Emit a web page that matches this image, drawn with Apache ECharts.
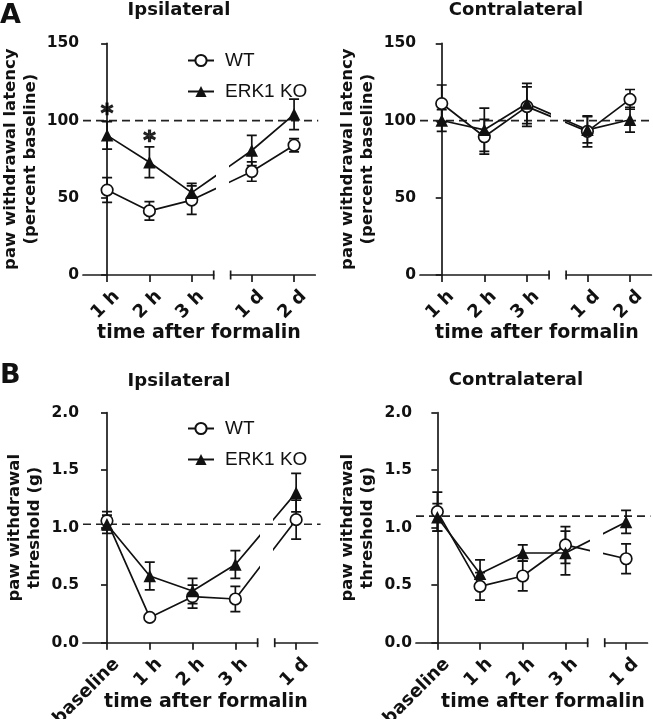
<!DOCTYPE html>
<html><head><meta charset="utf-8">
<script src="https://cdn.jsdelivr.net/npm/echarts@6/dist/echarts.min.js"></script>
<style>html,body{margin:0;padding:0;background:#fff}#c{width:653px;height:719px}</style>
</head><body><div id="c"></div>
<script>
// ---------------- data ----------------
const catsA1 = ['1 h', '2 h', '3 h'];
const catsA2 = ['1 d', '2 d'];
const catsB1 = ['baseline', '1 h', '2 h', '3 h'];
const catsB2 = ['1 d'];

const aIpsiWT = [55, 41.5, 48.5, 67, 84];
const aIpsiWTsem = [8, 6, 9.2, 6.3, 4.3];
const aIpsiKO = [90.4, 73, 53.3, 80.6, 104];
const aIpsiKOsem = [8.9, 10, 6, 9.8, 9.9];

const aContraWT = [111, 89.5, 109, 93, 113.7];
const aContraWTsem = [12, 11.2, 12.8, 10, 6.4];
const aContraKO = [100, 94, 111, 94, 100.5];
const aContraKOsem = [7, 14, 13, 8.5, 8];

const bIpsiWT = [1.06, 0.22, 0.40, 0.38, 1.07];
const bIpsiWTsem = [0.08, 0.02, 0.10, 0.11, 0.17];
const bIpsiKO = [1.03, 0.58, 0.45, 0.68, 1.305];
const bIpsiKOsem = [0.08, 0.12, 0.11, 0.12, 0.167];

const bContraWT = [1.14, 0.49, 0.58, 0.85, 0.73];
const bContraWTsem = [0.17, 0.12, 0.13, 0.16, 0.13];
const bContraKO = [1.09, 0.60, 0.78, 0.78, 1.05];
const bContraKOsem = [0.12, 0.12, 0.07, 0.19, 0.10];

const aRef = 100, bIpsiRef = 1.03, bContraRef = 1.10;
const aYAxis = { min: 0, max: 150, interval: 50, decimals: 0 };
const bYAxis = { min: 0, max: 2.0, interval: 0.5, decimals: 1 };

// significance stars (A, ipsilateral): category index in first segment, value
const starCats = [0, 1];
const starVals = [108, 91];

const seriesNames = ['WT', 'ERK1 KO'];
const yNameA = 'paw withdrawal latency\n(percent baseline)';
const yNameB = 'paw withdrawal\nthreshold (g)';
const xName = 'time after formalin';

// ---------------- layout ----------------
const BOLD = '"DejaVu Sans", "Liberation Sans", Arial, sans-serif';
const INK = '#111';
const AXIS = '#1a1a1a';
const LW = 1.7;
const END_PAD = 0.52, GAP = 0.4, START_PAD = 0.5, TAIL_PAD = 0.5;

const panels = [
  { cats1: catsA1, cats2: catsA2, wt: aIpsiWT, wtSem: aIpsiWTsem, ko: aIpsiKO, koSem: aIpsiKOsem,
    ref: aRef, y: aYAxis, yName: yNameA, axisX: 83, S: 42.3, lead: 0.57, top: 43.3, h: 231.7, nameGap: 42, stars: true },
  { cats1: catsA1, cats2: catsA2, wt: aContraWT, wtSem: aContraWTsem, ko: aContraKO, koSem: aContraKOsem,
    ref: aRef, y: aYAxis, yName: yNameA, axisX: 420, S: 42.6, lead: 0.51, top: 43.3, h: 231.7, nameGap: 42 },
  { cats1: catsB1, cats2: catsB2, wt: bIpsiWT, wtSem: bIpsiWTsem, ko: bIpsiKO, koSem: bIpsiKOsem,
    ref: bIpsiRef, y: bYAxis, yName: yNameB, axisX: 83, S: 42.8, lead: 0.56, top: 412.7, h: 230, nameGap: 38 },
  { cats1: catsB1, cats2: catsB2, wt: bContraWT, wtSem: bContraWTsem, ko: bContraKO, koSem: bContraKOsem,
    ref: bContraRef, y: bYAxis, yName: yNameB, axisX: 416, S: 42.7, lead: 0.5, top: 412.7, h: 230, nameGap: 38 }
];

const grid = [], xAxis = [], yAxis = [], series = [];

function errItem(params, api) {
  const x = api.value(0), m = api.value(1), s = api.value(2);
  const t = api.coord([x, m + s]), b = api.coord([x, m - s]);
  const cw = 5;
  const st = { stroke: INK, lineWidth: LW };
  return { type: 'group', children: [
    { type: 'line', shape: { x1: t[0], y1: t[1], x2: b[0], y2: b[1] }, style: st },
    { type: 'line', shape: { x1: t[0] - cw, y1: t[1], x2: t[0] + cw, y2: t[1] }, style: st },
    { type: 'line', shape: { x1: b[0] - cw, y1: b[1], x2: b[0] + cw, y2: b[1] }, style: st }
  ]};
}
function endTick(yMin) {
  return function (params, api) {
    const p = api.coord([api.value(0), yMin]);
    return { type: 'line', shape: { x1: p[0], y1: p[1] - 4.5, x2: p[0], y2: p[1] + 4.5 },
             style: { stroke: AXIS, lineWidth: LW } };
  };
}

panels.forEach((P) => {
  const n1 = P.cats1.length, n2 = P.cats2.length;
  const xs1 = P.cats1.map((_, i) => i);
  const seg2First = n1 - 1 + END_PAD + GAP + START_PAD;
  const xs2 = P.cats2.map((_, j) => seg2First + j);
  const xs = xs1.concat(xs2);
  const labels = P.cats1.concat(P.cats2);
  const seg1Min = -P.lead, seg1Max = n1 - 1 + END_PAD;
  const seg2Min = seg1Max + GAP, seg2Max = seg2First + n2 - 1 + TAIL_PAD;
  const px = (v) => P.axisX + (v - seg1Min) * P.S;
  const fmtX = (v) => { const k = xs.findIndex((x) => Math.abs(x - v) < 1e-6); return k >= 0 ? labels[k] : ''; };

  // background grid (y axis + dashed reference line)
  const gBg = grid.length;
  const extra = 3 / P.S;
  grid.push({ left: P.axisX, top: P.top, width: px(seg2Max + extra) - P.axisX, height: P.h, containLabel: false, outerBoundsMode: 'none' });
  xAxis.push({ gridIndex: gBg, type: 'value', min: seg1Min, max: seg2Max + extra, show: false });
  yAxis.push({ gridIndex: gBg, type: 'value', min: P.y.min, max: P.y.max, interval: P.y.interval,
    axisLine: { show: true, lineStyle: { color: AXIS, width: LW } },
    axisTick: { show: true, length: 6, lineStyle: { color: AXIS, width: LW } },
    splitLine: { show: false },
    axisLabel: { fontFamily: BOLD, fontWeight: 'bold', fontSize: 15.5, color: INK, margin: 4,
      formatter: (v) => v.toFixed(P.y.decimals) },
    name: P.yName, nameLocation: 'middle', nameGap: P.nameGap, nameRotate: 90,
    nameTextStyle: { fontFamily: BOLD, fontWeight: 'bold', fontSize: 16.5, color: INK, lineHeight: 20, align: 'center' } });
  series.push({ type: 'line', xAxisIndex: gBg, yAxisIndex: gBg, silent: true, symbol: 'none', z: 1,
    data: [[seg1Min, P.ref], [seg2Max + extra, P.ref]],
    lineStyle: { color: '#222', width: 1.7, type: [8, 5] } });

  // two axis segments
  [[seg1Min, seg1Max, xs1, seg1Max], [seg2Min, seg2Max, xs2, seg2Min]].forEach(([mn, mx, tickXs, tickEnd], si) => {
    const gi = grid.length;
    grid.push({ left: px(mn), top: P.top, width: (mx - mn) * P.S, height: P.h, containLabel: false, outerBoundsMode: 'none' });
    xAxis.push({ gridIndex: gi, type: 'value', min: mn, max: mx,
      axisLine: { show: true, onZero: false, lineStyle: { color: AXIS, width: LW } },
      axisTick: { show: true, length: 7, customValues: tickXs, lineStyle: { color: AXIS, width: LW } },
      splitLine: { show: false },
      axisLabel: { show: true, customValues: tickXs, formatter: fmtX, rotate: 45, margin: 9,
        fontFamily: BOLD, fontWeight: 'bold', fontSize: 18, color: INK, verticalAlign: 'top', lineHeight: 27 } });
    yAxis.push({ gridIndex: gi, type: 'value', min: P.y.min, max: P.y.max, show: false, splitLine: { show: false } });

    series.push({ type: 'custom', xAxisIndex: gi, yAxisIndex: gi, silent: true, clip: false, z: 3,
      renderItem: endTick(P.y.min), data: [[tickEnd]] });

    [[P.wt, P.wtSem], [P.ko, P.koSem]].forEach(([vals, sems], k) => {
      series.push({ type: 'custom', xAxisIndex: gi, yAxisIndex: gi, silent: true, clip: true, z: 2,
        renderItem: errItem, encode: { x: 0, y: 1 },
        data: xs.map((x, i) => [x, vals[i], sems[i]]) });
    });
    [[P.wt, 0], [P.ko, 1]].forEach(([vals, k]) => {
      series.push({ type: 'line', name: seriesNames[k], xAxisIndex: gi, yAxisIndex: gi, clip: true, z: 4,
        data: xs.map((x, i) => [x, vals[i]]),
        symbol: k === 0 ? 'circle' : 'triangle', symbolSize: k === 0 ? 11.5 : 12.5, showAllSymbol: true,
        lineStyle: { color: INK, width: LW },
        itemStyle: k === 0 ? { color: '#fff', borderColor: INK, borderWidth: LW } : { color: INK, borderColor: INK, borderWidth: 0 },
        emphasis: { disabled: true }, animation: false });
    });

    if (P.stars && si === 0) {
      series.push({ type: 'scatter', xAxisIndex: gi, yAxisIndex: gi, silent: true, z: 5,
        symbolSize: 1, itemStyle: { color: 'rgba(0,0,0,0)' },
        data: starCats.map((c, i) => [xs1[c], starVals[i]]),
        label: { show: true, position: 'inside', formatter: '*', offset: [0, 7],
          fontFamily: BOLD, fontWeight: 'bold', fontSize: 24, color: '#000',
          textBorderColor: '#000', textBorderWidth: 1.2 } });
    }
  });
});

function txt(text, x, y, size, weight, align) {
  return { type: 'text', x: x, y: y, silent: true,
    style: { text: text, fill: INK, font: (weight || 'bold') + ' ' + size + 'px ' + BOLD,
      align: align || 'center', verticalAlign: 'middle', textAlign: align || 'center', textVerticalAlign: 'middle' } };
}

const graphic = [
  txt('A', 0, 16, 27, 'bold', 'left'),
  txt('B', 0, 376, 27, 'bold', 'left'),
  txt('Ipsilateral', 179, 10, 18),
  txt('Contralateral', 516, 10, 18),
  txt('Ipsilateral', 179, 381, 18),
  txt('Contralateral', 516, 380, 18),
  txt(xName, 199, 333, 19),
  txt(xName, 537, 333, 19),
  txt(xName, 206, 702, 19),
  txt(xName, 543, 702, 19)
];

const legendBase = {
  orient: 'vertical', left: 182, itemWidth: 26, itemHeight: 14, itemGap: 12,
  data: seriesNames, selectedMode: false,
  textStyle: { fontFamily: '"Liberation Sans", Arial, sans-serif', fontSize: 19, color: INK, padding: [0, 0, 0, 6] }
};

const chart = echarts.init(document.getElementById('c'), null, { renderer: 'canvas' });
chart.setOption({
  animation: false,
  backgroundColor: '#fff',
  grid, xAxis, yAxis, series, graphic,
  legend: [Object.assign({ top: 46 }, legendBase), Object.assign({ top: 414 }, legendBase)]
});
</script></body></html>
